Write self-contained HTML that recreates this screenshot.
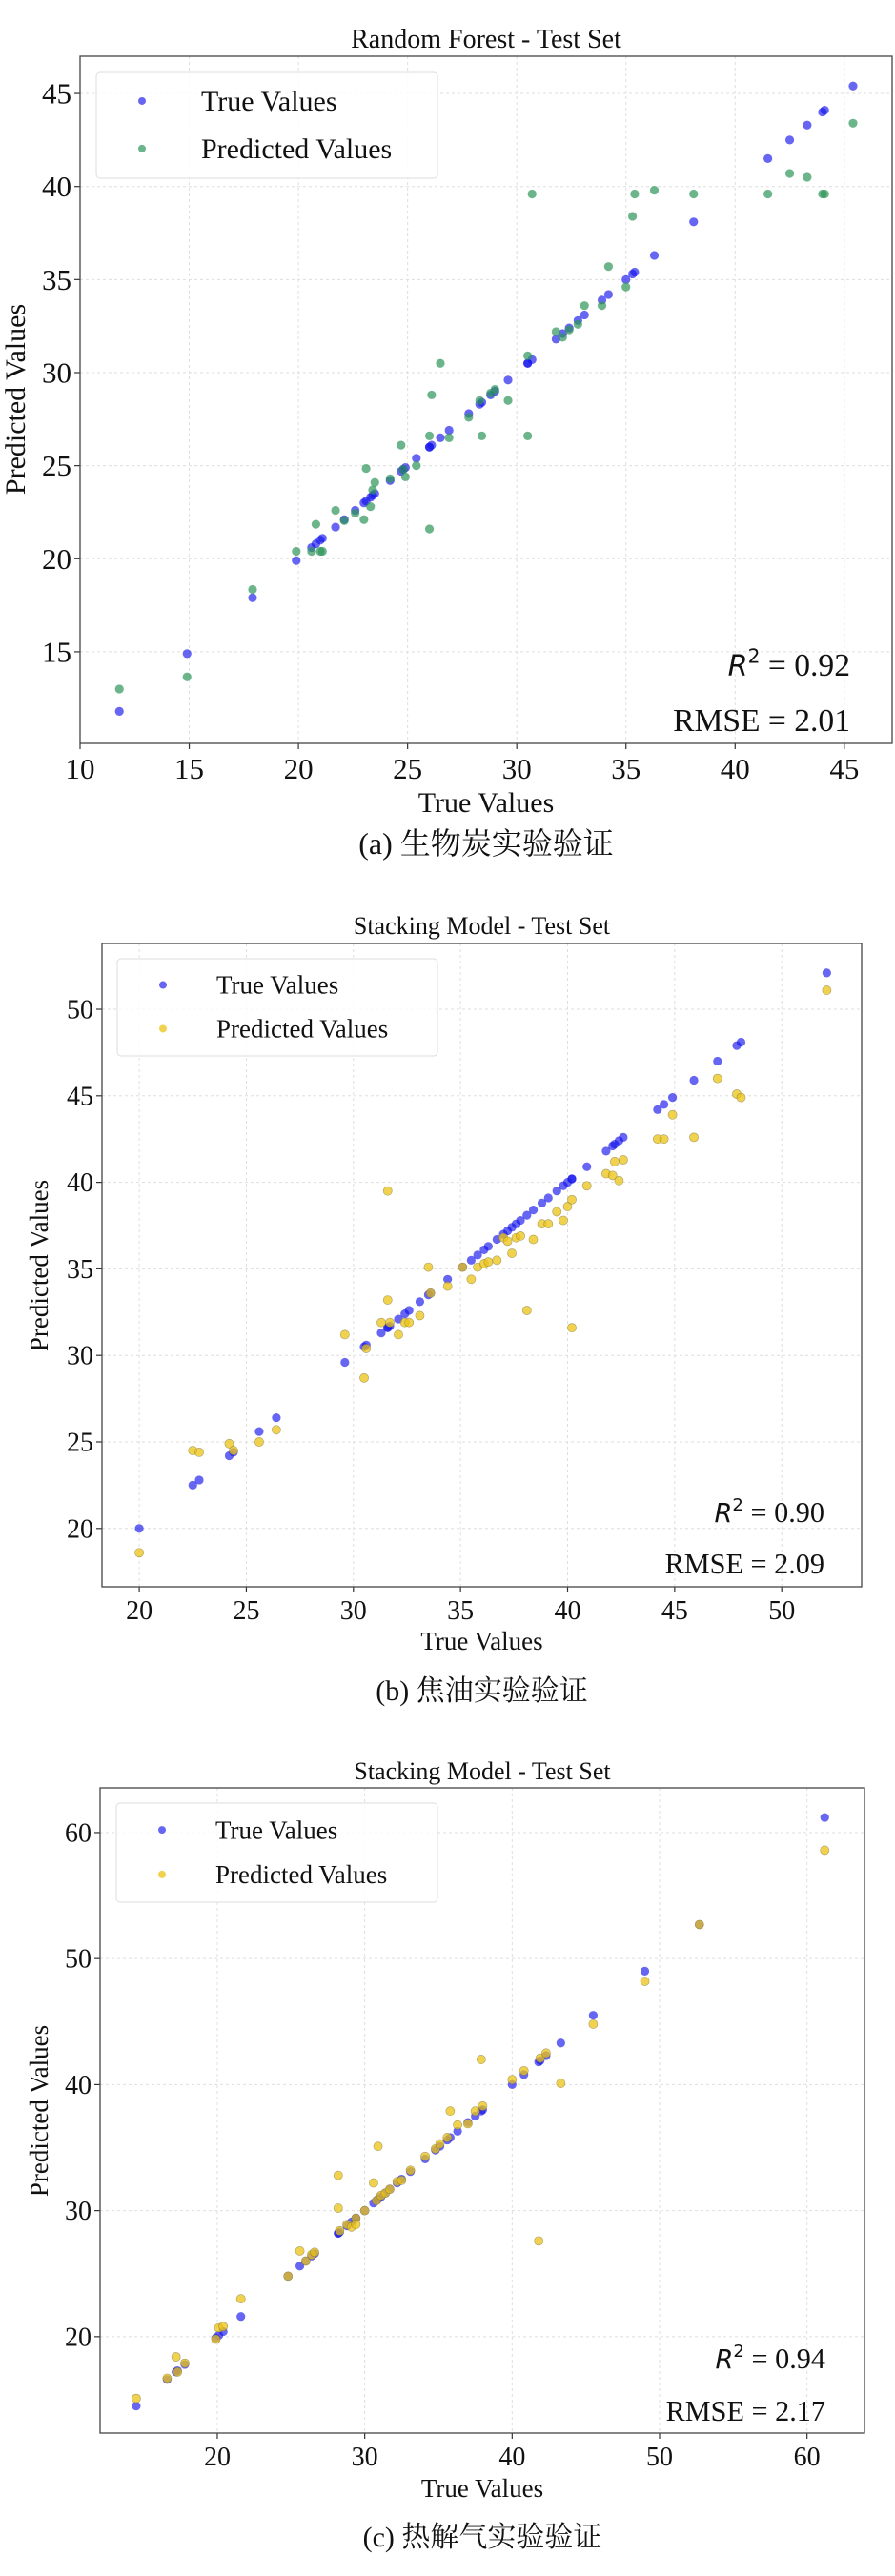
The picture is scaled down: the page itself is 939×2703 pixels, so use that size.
<!DOCTYPE html>
<html><head><meta charset="utf-8">
<style>
html,body{margin:0;padding:0;background:#fff;}
svg{display:block;}
text{font-family:"Liberation Serif","Noto Serif CJK SC",serif;fill:#111;}
</style></head>
<body>
<svg id="fig" width="939" height="2703" viewBox="0 0 939 2703" xmlns="http://www.w3.org/2000/svg"></svg>
<script>
// ---- Chart A data (Random Forest, biochar) ----
const aTrue = [11.8,14.9,17.9,19.9,20.6,20.8,21.0,21.1,21.7,22.1,22.6,23.0,23.1,23.3,23.4,23.5,24.2,24.7,24.8,24.9,25.4,26.0,26.0,26.1,26.5,26.9,27.8,28.3,28.4,28.8,29.0,29.6,30.5,30.5,30.7,31.8,32.1,32.4,32.8,33.1,33.9,34.2,35.0,35.3,35.4,36.3,38.1,41.5,42.5,43.3,44.0,44.1,45.4];
const aPred = [13.0,13.65,18.35,20.4,20.4,21.85,20.4,20.4,22.6,22.05,22.45,22.1,24.85,22.8,23.7,24.1,24.3,26.1,24.8,24.4,25.0,26.6,21.6,28.8,30.5,26.5,27.6,28.5,26.6,28.9,29.1,28.5,30.9,26.6,39.6,32.2,31.9,32.3,32.6,33.6,33.6,35.7,34.6,38.4,39.6,39.8,39.6,39.6,40.7,40.5,39.6,39.6,43.4];
const aXTicks = [10,15,20,25,30,35,40,45];
const aYTicks = [15,20,25,30,35,40,45];
// ---- Chart B data (Stacking, tar) ----
const bTrue = [20.0,22.5,22.8,24.2,24.4,25.6,26.4,29.6,30.5,30.6,31.3,31.6,31.6,31.7,32.1,32.4,32.6,33.1,33.5,33.6,34.4,35.1,35.5,35.8,36.1,36.3,36.7,37.0,37.2,37.4,37.6,37.8,38.1,38.4,38.8,39.1,39.5,39.8,40.0,40.2,40.2,40.9,41.8,42.1,42.2,42.4,42.6,44.2,44.5,44.9,45.9,47.0,47.9,48.1,52.1];
const bPred = [18.6,24.5,24.4,24.9,24.5,25.0,25.7,31.2,28.7,30.4,31.9,33.2,39.5,31.9,31.2,31.9,31.9,32.3,35.1,33.6,34.0,35.1,34.4,35.1,35.3,35.4,35.5,36.8,36.6,35.9,36.8,36.9,32.6,36.7,37.6,37.6,38.3,37.8,38.6,39.0,31.6,39.8,40.5,40.4,41.2,40.1,41.3,42.5,42.5,43.9,42.6,46.0,45.1,44.9,51.1];
const bXTicks = [20,25,30,35,40,45,50];
const bYTicks = [20,25,30,35,40,45,50];
// ---- Chart C data (Stacking, pyrolysis gas) ----
const cTrue = [14.5,16.6,17.2,17.3,17.8,19.9,20.1,20.4,21.6,24.8,25.6,26.0,26.4,26.6,28.2,28.2,28.3,28.8,29.1,29.4,29.4,30.0,30.6,30.8,30.9,31.1,31.4,31.7,32.2,32.5,33.1,34.1,34.8,35.1,35.6,35.8,36.3,37.0,37.5,37.9,38.0,40.0,40.8,41.8,41.9,42.3,43.3,45.5,49.0,52.7,61.2];
const cPred = [15.1,16.7,18.4,17.2,17.9,19.8,20.7,20.8,23.0,24.8,26.8,26.0,26.5,26.7,32.8,30.2,28.4,28.9,28.7,29.4,28.9,30.0,32.2,30.8,35.1,31.2,31.4,31.7,32.3,32.4,33.2,34.3,34.9,35.3,35.8,37.9,36.8,36.9,37.9,42.0,38.3,40.4,41.1,27.6,42.1,42.5,40.1,44.8,48.2,52.7,58.6];
const cXTicks = [20,30,40,50,60];
const cYTicks = [20,30,40,50,60];

const NS = "http://www.w3.org/2000/svg";
const svg = document.getElementById('fig');
function mk(tag, attrs, parent){
  const e = document.createElementNS(NS, tag);
  for (const k in attrs) e.setAttribute(k, attrs[k]);
  (parent||svg).appendChild(e);
  return e;
}
function txt(s, attrs, parent){ const t = mk('text', attrs, parent); t.textContent = s; return t; }

function drawChart(id, cfg, trueV, predV, xTicks, yTicks){
  const g = mk('g', {});
  
  
  const sx = v => cfg.L + (v - cfg.x0) / (cfg.x1 - cfg.x0) * (cfg.R - cfg.L);
  const sy = v => cfg.B - (v - cfg.y0) / (cfg.y1 - cfg.y0) * (cfg.B - cfg.T);
  xTicks.forEach(v => {
    const l = mk('line', {x1:sx(v), x2:sx(v), y1:cfg.T, y2:cfg.B, stroke:'#dedede', 'stroke-dasharray':'3,3', 'stroke-width':1}, g);
    
    
    mk('line', {x1:sx(v), x2:sx(v), y1:cfg.B, y2:cfg.B+6, stroke:'#333', 'stroke-width':1.2}, g);
    const t = txt(v, {x:sx(v), y:cfg.B+cfg.fs+6, 'text-anchor':'middle', 'font-size':cfg.fs}, g);
    
    
  });
  yTicks.forEach(v => {
    const l = mk('line', {x1:cfg.L, x2:cfg.R, y1:sy(v), y2:sy(v), stroke:'#dedede', 'stroke-dasharray':'3,3', 'stroke-width':1}, g);
    
    
    mk('line', {x1:cfg.L-6, x2:cfg.L, y1:sy(v), y2:sy(v), stroke:'#333', 'stroke-width':1.2}, g);
    const t = txt(v, {x:cfg.L-9, y:sy(v)+cfg.fs*0.34, 'text-anchor':'end', 'font-size':cfg.fs}, g);
    
    
  });
  const fr = mk('rect', {x:cfg.L, y:cfg.T, width:cfg.R-cfg.L, height:cfg.B-cfg.T, fill:'none', stroke:'#444', 'stroke-width':1.3}, g);
  
  
  trueV.forEach((v, i) => {
    const c = mk('circle', {cx:sx(v), cy:sy(v), r:4.6, fill:'rgba(20,20,235,0.65)'}, g);
    
    
  });
  predV.forEach((v, i) => {
    const c = mk('circle', {cx:sx(trueV[i]), cy:sy(v), r:4.6, fill:cfg.pc, stroke:cfg.ps, 'stroke-width':0.6}, g);
    
    
  });
  const ti = txt(cfg.title, {x:(cfg.L+cfg.R)/2, y:cfg.titleY, 'text-anchor':'middle', 'font-size':cfg.tfs}, g);
  
  
  const xl = txt('True Values', {x:(cfg.L+cfg.R)/2, y:cfg.xlY, 'text-anchor':'middle', 'font-size':cfg.lfs}, g);
  
  
  const yl = txt('Predicted Values', {x:0, y:0, 'text-anchor':'middle', 'font-size':cfg.lfs, transform:'translate(' + cfg.ylX + ',' + cfg.ylY + ') rotate(-90)'}, g);
  
  
  const lg = mk('g', {}, g);
  
  
  mk('rect', {x:cfg.lgX, y:cfg.lgY, width:cfg.lgW, height:cfg.lgH, rx:4, fill:'rgba(255,255,255,0.85)', stroke:'#ddd'}, lg);
  const e1 = mk('circle', {cx:cfg.lgX+48, cy:cfg.lgY+cfg.lgH*0.27, r:4, fill:'rgba(20,20,235,0.65)'}, lg);
  
  
  const t1 = txt('True Values', {x:cfg.lgX+cfg.lgTx, y:cfg.lgY+cfg.lgH*0.27+cfg.lfs*0.34, 'font-size':cfg.lfs}, lg);
  
  
  const e2 = mk('circle', {cx:cfg.lgX+48, cy:cfg.lgY+cfg.lgH*0.72, r:4, fill:cfg.pc}, lg);
  
  
  const t2 = txt('Predicted Values', {x:cfg.lgX+cfg.lgTx, y:cfg.lgY+cfg.lgH*0.72+cfg.lfs*0.34, 'font-size':cfg.lfs}, lg);
  
  
  const mfs = cfg.lfs*1.12;
  const r2 = mk('text', {x:cfg.mR, y:cfg.r2Y, 'text-anchor':'end', 'font-size':mfs}, g);
  
  
  const ts1 = mk('tspan', {'font-family':'DejaVu Sans, sans-serif', 'font-style':'italic', 'font-size':mfs*0.9}, r2); ts1.textContent = 'R';
  const ts2 = mk('tspan', {'font-family':'DejaVu Sans, sans-serif', 'font-size':mfs*0.6, dy:-mfs*0.4}, r2); ts2.textContent = '2';
  const ts3 = mk('tspan', {dy:mfs*0.4}, r2); ts3.textContent = ' = ' + cfg.r2;
  const rm = txt('RMSE = ' + cfg.rmse, {x:cfg.mR, y:cfg.rmY, 'text-anchor':'end', 'font-size':mfs}, g);
  
  
  const cap = txt(cfg.caption, {x:(cfg.L+cfg.R)/2, y:cfg.capY, 'text-anchor':'middle', 'font-size':cfg.cfs}, g);
  
  
}

drawChart('random-forest', {L:84,R:936,T:59,B:780,x0:10,x1:47.19,y0:10.08,y1:47.0,fs:31,tfs:28,lfs:30,cfs:32,
  title:'Random Forest - Test Set',titleY:50,xlY:852,ylX:26,ylY:419,
  lgX:101,lgY:76,lgW:358,lgH:111,lgTx:110,pc:'rgba(46,150,90,0.7)',ps:'none',
  mR:892,r2Y:709,rmY:767,r2:'0.92',rmse:'2.01',caption:'(a) 生物炭实验验证',capY:896}, aTrue, aPred, aXTicks, aYTicks);

drawChart('stacking-tar', {L:107,R:904,T:990,B:1665,x0:18.26,x1:53.73,y0:16.63,y1:53.8,fs:28,tfs:26,lfs:27,cfs:30,
  title:'Stacking Model - Test Set',titleY:980,xlY:1731,ylX:50,ylY:1328,
  lgX:123,lgY:1006,lgW:336,lgH:102,lgTx:104,pc:'rgba(235,195,20,0.75)',ps:'rgba(120,110,60,0.6)',
  mR:865,r2Y:1597,rmY:1651,r2:'0.90',rmse:'2.09',caption:'(b) 焦油实验验证',capY:1784}, bTrue, bPred, bXTicks, bYTicks);

drawChart('stacking-gas', {L:105,R:907,T:1876,B:2553,x0:12.05,x1:63.9,y0:12.35,y1:63.55,fs:28,tfs:26,lfs:27,cfs:30,
  title:'Stacking Model - Test Set',titleY:1867,xlY:2620,ylX:50,ylY:2215,
  lgX:122,lgY:1892,lgW:337,lgH:104,lgTx:104,pc:'rgba(235,195,20,0.75)',ps:'rgba(120,110,60,0.6)',
  mR:866,r2Y:2485,rmY:2540,r2:'0.94',rmse:'2.17',caption:'(c) 热解气实验验证',capY:2672}, cTrue, cPred, cXTicks, cYTicks);
</script>
</body></html>
